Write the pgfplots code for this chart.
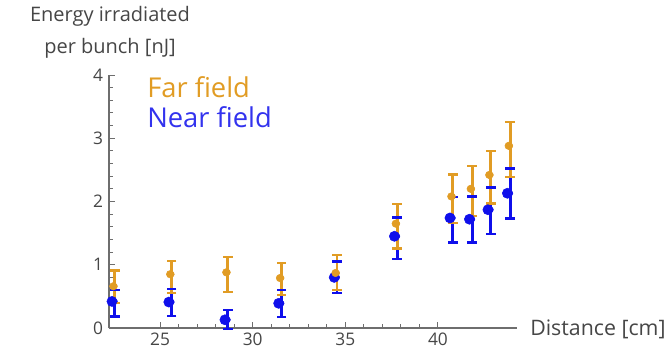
\documentclass[border=0pt]{standalone}
\usepackage{fontspec}
\setmainfont{Open Sans}
\usepackage{pgfplots}
\usepackage{pgfplotstable}
\pgfplotsset{compat=1.18}
\definecolor{mmaorange}{rgb}{0.880722,0.611041,0.142051}
\definecolor{mmablue}{RGB}{15,15,235}
\definecolor{axisgray}{RGB}{110,110,110}
\definecolor{labelgray}{RGB}{70,70,70}

\pgfplotstableread{
x y ep em
22.55 0.42 0.18 0.24
25.62 0.41 0.21 0.22
28.65 0.13 0.15 0.15
31.55 0.39 0.21 0.22
34.55 0.80 0.25 0.25
37.80 1.45 0.30 0.36
40.80 1.74 0.33 0.39
41.85 1.72 0.36 0.37
42.85 1.87 0.35 0.38
43.90 2.13 0.39 0.40
}\near

\pgfplotstableread{
x y ep em
22.55 0.66 0.25 0.26
25.62 0.85 0.21 0.30
28.65 0.88 0.24 0.31
31.55 0.79 0.24 0.27
34.55 0.87 0.28 0.27
37.80 1.65 0.31 0.39
40.80 2.08 0.35 0.42
41.85 2.20 0.36 0.43
42.85 2.42 0.38 0.45
43.90 2.88 0.38 0.49
}\far

\begin{document}
\begin{tikzpicture}
\begin{axis}[
  at={(0,0)}, anchor=south west,
  scale only axis,
  width=306pt, height=189.75pt,
  xmin=22.24, xmax=44.27,
  ymin=0, ymax=4,
  clip=false,
  axis lines=left,
  axis line style={-, draw=axisgray, line width=0.8pt},
  tick align=inside,
  tick style={draw=axisgray, line width=0.7pt},
  major tick length=4.5pt,
  minor tick length=2.8pt,
  xtick={25,30,35,40},
  ytick={0,1,2,3,4},
  minor x tick num=4,
  minor y tick num=4,
  tick label style={font=\fontsize{13}{13}\selectfont, text=labelgray},
  /pgf/number format/assume math mode=true,
  yticklabel style={xshift=-1pt},
]
% near field: bars and caps
\addplot[mmablue, only marks, mark=none,
  error bars/.cd, y dir=both, y explicit, error mark=none,
  error bar style={line width=2.2pt, draw=mmablue}]
  table[x=x, y=y, y error plus=ep, y error minus=em]{\near};
\addplot[only marks, mark=-, mark size=3.6pt, mark options={draw=mmablue, line width=1.8pt}]
  table[x=x, y expr=\thisrow{y}+\thisrow{ep}]{\near};
\addplot[only marks, mark=-, mark size=3.6pt, mark options={draw=mmablue, line width=1.8pt}]
  table[x=x, y expr=\thisrow{y}-\thisrow{em}]{\near};
% far field: bars and caps
\addplot[mmaorange, only marks, mark=none,
  error bars/.cd, y dir=both, y explicit, error mark=none,
  error bar style={line width=2.2pt, draw=mmaorange}]
  table[x=x, y=y, y error plus=ep, y error minus=em]{\far};
\addplot[only marks, mark=-, mark size=3.6pt, mark options={draw=mmaorange, line width=1.8pt}]
  table[x=x, y expr=\thisrow{y}+\thisrow{ep}]{\far};
\addplot[only marks, mark=-, mark size=3.6pt, mark options={draw=mmaorange, line width=1.8pt}]
  table[x=x, y expr=\thisrow{y}-\thisrow{em}]{\far};
% points
\addplot[only marks, mark=*, mark size=3.8pt, mmablue, mark options={draw=none, fill=mmablue}]
  table[x expr=\thisrow{x}-0.15, y=y]{\near};
\addplot[only marks, mark=*, mark size=2.8pt, mmaorange, mark options={draw=none, fill=mmaorange}]
  table[x expr=\thisrow{x}-0.08, y=y]{\far};
\end{axis}
% labels
\node[anchor=base, text=labelgray, font=\fontsize{15}{15}\selectfont, inner sep=0pt] at (0.75pt,229.5pt) {Energy irradiated};
\node[anchor=base, text=labelgray, font=\fontsize{15}{15}\selectfont, inner sep=0pt] at (0.75pt,205.5pt) {per bunch [nJ]};
\node[anchor=base west, text=labelgray, font=\fontsize{16}{16}\selectfont, inner sep=0pt] at (315.75pt,-5.25pt) {Distance [cm]};
\node[anchor=base west, text=mmaorange, font=\fontsize{20.5}{20.5}\selectfont, inner sep=0pt] at (28.5pt,172.5pt) {Far field};
\node[anchor=base west, text=mmablue!85!white, font=\fontsize{20.5}{20.5}\selectfont, inner sep=0pt] at (28.5pt,150pt) {Near field};
\pgfresetboundingbox
\path[use as bounding box] (-81.75pt,-14.25pt) rectangle (421.5pt,246pt);
\end{tikzpicture}
\end{document}
